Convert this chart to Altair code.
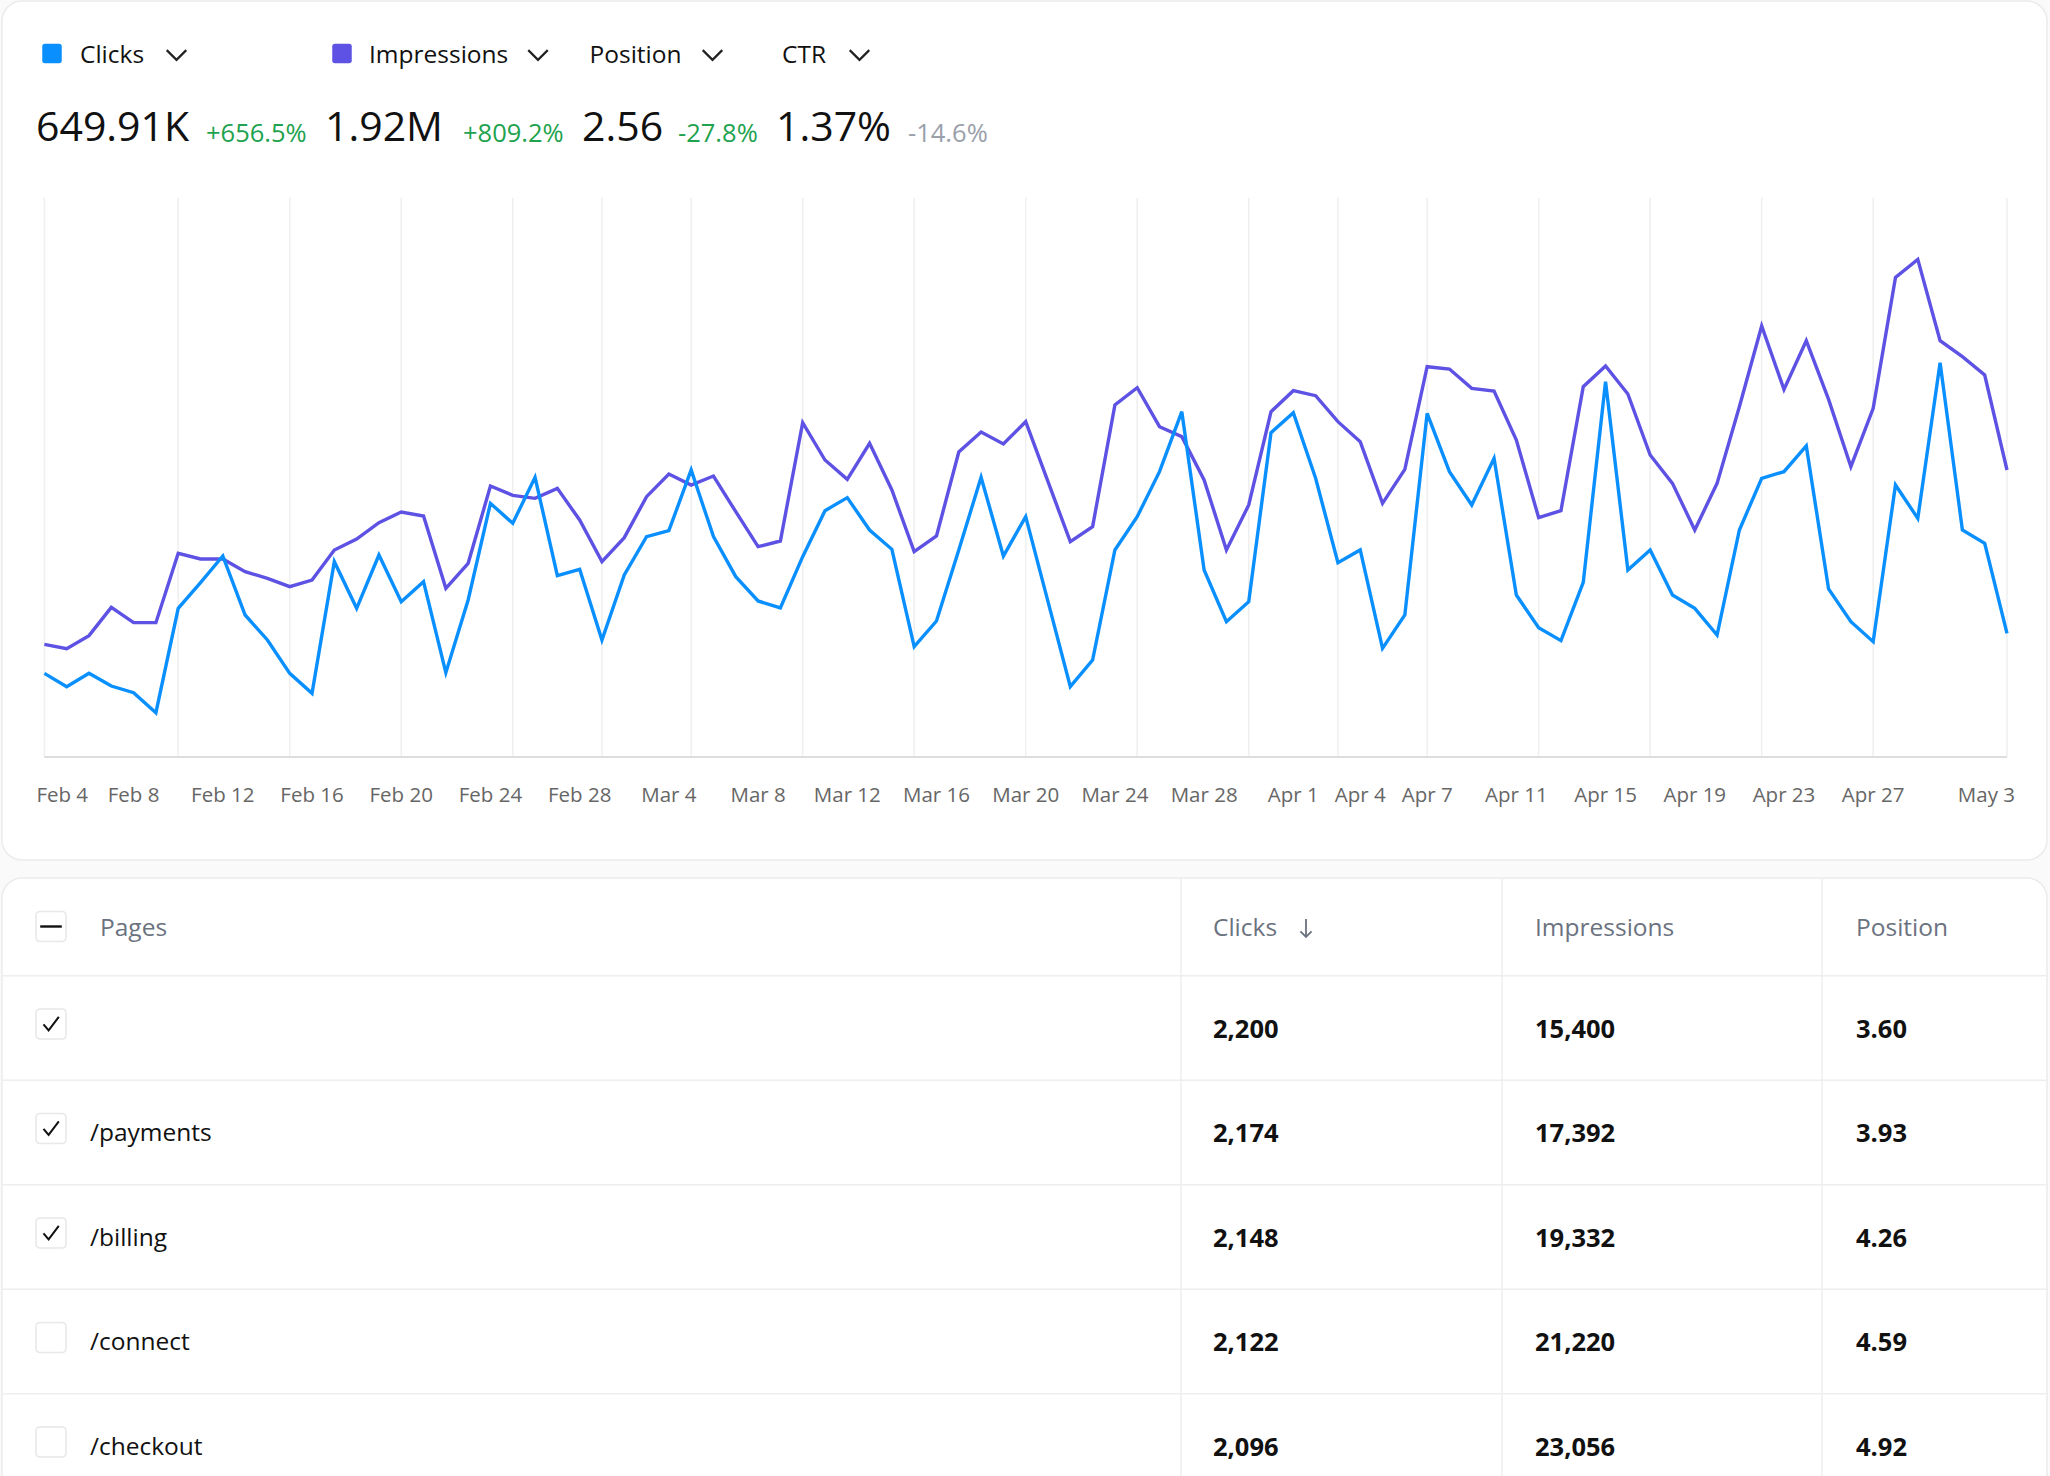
import altair as alt
import pandas as pd

# ---------------- data ----------------
start_date = "2025-02-04"
n_days = 89

clicks = [3143, 2642, 3143, 2667, 2417, 1666, 5585, 6550, 7551, 5335,
          4396, 3143, 2392, 7338, 5585, 7589, 5836, 6587, 3168, 5898,
          9530, 8779, 10507, 6813, 7050, 4396, 6838, 8278, 8503, 10782,
          8278, 6775, 5861, 5598, 7526, 9254, 9743, 8528, 7802, 4145,
          5109, 7777, 10507, 7551, 9029, 5836, 2642, 3644, 7777, 9029,
          10720, 12974, 7025, 5084, 5836, 12185, 12936, 10469, 7301, 7777,
          4082, 5335, 12911, 10720, 9467, 11221, 6086, 4859, 4371, 6562,
          14101, 7025, 7777, 6086, 5585, 4583, 8528, 10469, 10720, 11684,
          6312, 5084, 4333, 10219, 8966, 14815, 8528, 8027, 4646]

impressions = [8666, 8333, 9333, 11512, 10333, 10333, 15666, 15230, 15230, 14256,
               13743, 13102, 13615, 15922, 16769, 18025, 18845, 18538, 12974, 14897,
               20845, 20127, 19897, 20666, 18230, 15025, 16871, 20025, 21768, 20922,
               21615, 18871, 16179, 16615, 25717, 22845, 21358, 24127, 20538, 15794,
               17000, 23461, 24999, 24076, 25794, 21179, 16563, 17717, 27076, 28409,
               25409, 24640, 21307, 15922, 19384, 26563, 28178, 27794, 25794, 24255,
               19512, 22127, 30024, 29845, 28358, 28153, 24384, 18410, 18948, 28486,
               30076, 27922, 23230, 21050, 17461, 21050, 26948, 33153, 28281, 32024,
               27512, 22332, 26819, 36896, 38281, 32024, 30794, 29383, 22076]

tick_label_dates = ["2025-02-04", "2025-02-08", "2025-02-12", "2025-02-16", "2025-02-20",
                    "2025-02-24", "2025-02-28", "2025-03-04", "2025-03-08", "2025-03-12",
                    "2025-03-16", "2025-03-20", "2025-03-24", "2025-03-28", "2025-04-01",
                    "2025-04-04", "2025-04-07", "2025-04-11", "2025-04-15", "2025-04-19",
                    "2025-04-23", "2025-04-27", "2025-05-03"]

gridline_dates = ["2025-02-04", "2025-02-10", "2025-02-15", "2025-02-20", "2025-02-25",
                  "2025-03-01", "2025-03-05", "2025-03-10", "2025-03-15", "2025-03-20",
                  "2025-03-25", "2025-03-30", "2025-04-03", "2025-04-07", "2025-04-12",
                  "2025-04-17", "2025-04-22", "2025-04-27", "2025-05-03"]

metric_names = ["Clicks", "Impressions", "Position", "CTR"]
metric_totals = ["649.91K", "1.92M", "2.56", "1.37%"]
metric_changes = ["+656.5%", "+809.2%", "-27.8%", "-14.6%"]

table_columns = ["Pages", "Clicks", "Impressions", "Position"]
pages = ["", "/payments", "/billing", "/connect", "/checkout"]
page_clicks = [2200, 2174, 2148, 2122, 2096]
page_impressions = [15400, 17392, 19332, 21220, 23056]
page_position = [3.60, 3.93, 4.26, 4.59, 4.92]
page_selected = [True, True, True, False, False]

# ---------------- styles / layout ----------------
FONT = "Open Sans"
BLUE = "#0a8fff"
PURPLE = "#5d52e3"
INK = "#111111"
GREEN = "#21a24e"
MUTED = "#9aa0aa"
AXIS_GRAY = "#666666"
HEAD_GRAY = "#6b7280"
LINE_GRAY = "#eeeeee"

legend_x = [80, 369, 589.5, 782]
chevron_x = [176.5, 538, 712.5, 859.5]
square_x = [52, 342]
square_colors = [BLUE, PURPLE]
total_x = [36, 325, 582, 776]
change_x = [206, 463, 678, 908]
change_colors = [GREEN, GREEN, GREEN, MUTED]
column_x = [100, 1213, 1535, 1856]
divider_x = [1181, 1502, 1822]

ROUNDED = ("M-0.72,-1 L0.72,-1 Q1,-1 1,-0.72 L1,0.72 Q1,1 0.72,1 L-0.72,1 "
           "Q-1,1 -1,0.72 L-1,-0.72 Q-1,-1 -0.72,-1 Z")
CHEVRON = "M-1,-0.5 L0,0.5 L1,-0.5"
CHECK = "M-0.5,0.02 L-0.16,0.42 L0.52,-0.48"
DASH = "M-0.72,0 L0.72,0"
ARROW = "M0,-1 L0,1 M-0.62,0.38 L0,1 L0.62,0.38"

one = pd.DataFrame({"k": [0]})


def text_layer(text, x, y, size, color=INK, weight="normal", align="left",
               baseline="middle", font=FONT):
    return alt.Chart(one).mark_text(
        text=text, align=align, baseline=baseline, fontSize=size, color=color,
        fontWeight=weight, font=font
    ).encode(x=alt.value(x), y=alt.value(y))


def symbol_layer(shape, x, y, size, fill=None, stroke=None, sw=1.0):
    kw = dict(shape=shape, size=size, opacity=1, strokeWidth=sw)
    if fill is not None:
        kw.update(filled=True, fill=fill)
    else:
        kw.update(filled=False, fill="transparent")
    if stroke is not None:
        kw.update(stroke=stroke)
    else:
        kw.update(strokeWidth=0)
    return alt.Chart(one).mark_point(**kw).encode(x=alt.value(x), y=alt.value(y))


def card(x1, x2, y1, y2):
    return alt.Chart(one).mark_rect(
        cornerRadius=20, fill="white", stroke="#ebebeb", strokeWidth=1.5
    ).encode(x=alt.value(x1), x2=alt.value(x2), y=alt.value(y1), y2=alt.value(y2))


layers = []

# cards
layers.append(card(2, 2047, 1, 860))
layers.append(card(2, 2047, 878, 1530))

# header legend + totals
for i, name in enumerate(metric_names):
    if i < len(square_x):
        layers.append(symbol_layer(ROUNDED, square_x[i], 53.5, 380, fill=square_colors[i]))
    layers.append(text_layer(name, legend_x[i], 55.5, 24.5))
    layers.append(symbol_layer(CHEVRON, chevron_x[i], 55, 380, stroke="#222222", sw=2.2))
    layers.append(text_layer(metric_totals[i], total_x[i], 141, 41, baseline="alphabetic"))
    layers.append(text_layer(metric_changes[i], change_x[i], 142, 25.5,
                             color=change_colors[i], baseline="alphabetic"))

# ---------------- line chart ----------------
dates = pd.date_range(start_date, periods=n_days, freq="D")
series = pd.DataFrame({"date": dates, "clicks": clicks, "impressions": impressions})

X = alt.X("date:T", scale=alt.Scale(range=[44.4, 2007], nice=False), axis=None)

grid_df = pd.DataFrame({"date": pd.to_datetime(gridline_dates)})
layers.append(
    alt.Chart(grid_df).mark_rule(color="#efefef", strokeWidth=1.5)
    .encode(x=X, y=alt.value(198), y2=alt.value(757))
)

base_df = pd.DataFrame({"date": [dates[0]], "end": [dates[-1]]})
layers.append(
    alt.Chart(base_df).mark_rule(color="#dddddd", strokeWidth=2)
    .encode(x=X, x2="end:T", y=alt.value(757))
)

layers.append(
    alt.Chart(series).mark_line(color=PURPLE, strokeWidth=3.4)
    .encode(x=X, y=alt.Y("impressions:Q",
                         scale=alt.Scale(domain=[0, 43000], range=[757, 198], nice=False,
                                         zero=False),
                         axis=None))
)
layers.append(
    alt.Chart(series).mark_line(color=BLUE, strokeWidth=3.4)
    .encode(x=X, y=alt.Y("clicks:Q",
                         scale=alt.Scale(domain=[0, 21000], range=[757, 198], nice=False,
                                         zero=False),
                         axis=None))
)

label_df = pd.DataFrame({"date": pd.to_datetime(tick_label_dates)})
label_parts = [
    (label_df.iloc[[0]], "left", -8),
    (label_df.iloc[1:-1], "center", 0),
    (label_df.iloc[[-1]], "right", 8),
]
for part, al, dx in label_parts:
    layers.append(
        alt.Chart(part).mark_text(align=al, dx=dx, baseline="middle", fontSize=20.5,
                                  color=AXIS_GRAY, font=FONT)
        .encode(x=X, y=alt.value(796), text=alt.Text("date:T", format="%b %-d"))
    )

# ---------------- table ----------------
table = pd.DataFrame({
    "row": list(range(len(pages))),
    "page": pages,
    "clicks": page_clicks,
    "impressions": page_impressions,
    "position": page_position,
    "selected": page_selected,
})
ROWSCALE = alt.Scale(domain=[0, 4], range=[1029.5, 1447.5], nice=False, zero=False)
LINESCALE = alt.Scale(domain=[0, 4], range=[1028, 1446], nice=False, zero=False)
BOXSCALE = alt.Scale(domain=[0, 4], range=[1024, 1442], nice=False, zero=False)

bounds = pd.DataFrame({"b": [-0.5, 0.5, 1.5, 2.5, 3.5]})
layers.append(
    alt.Chart(bounds).mark_rule(color=LINE_GRAY, strokeWidth=1.5)
    .encode(y=alt.Y("b:Q", scale=LINESCALE, axis=None), x=alt.value(3), x2=alt.value(2046))
)
for dxv in divider_x:
    layers.append(
        alt.Chart(one).mark_rule(color=LINE_GRAY, strokeWidth=1.5)
        .encode(x=alt.value(dxv), y=alt.value(879), y2=alt.value(1476))
    )

# header row
for i, col in enumerate(table_columns):
    layers.append(text_layer(col, column_x[i], 929, 24.5, color=HEAD_GRAY))
layers.append(symbol_layer(ARROW, 1306, 928, 324, stroke=HEAD_GRAY, sw=1.8))
layers.append(symbol_layer(ROUNDED, 51, 926.5, 900, fill="white", stroke="#e8e8e8", sw=1.5))
layers.append(symbol_layer(DASH, 51, 926.5, 900, stroke=INK, sw=2.4))

# row checkboxes
layers.append(
    alt.Chart(table).mark_point(shape=ROUNDED, size=900, filled=True, fill="white",
                                stroke="#e8e8e8", strokeWidth=1.5, opacity=1)
    .encode(x=alt.value(51), y=alt.Y("row:Q", scale=BOXSCALE, axis=None))
)
layers.append(
    alt.Chart(table[table["selected"]]).mark_point(shape=CHECK, size=900, filled=False,
                                                    fill="transparent", stroke=INK,
                                                    strokeWidth=2, opacity=1)
    .encode(x=alt.value(51), y=alt.Y("row:Q", scale=BOXSCALE, axis=None))
)

# row texts
layers.append(
    alt.Chart(table).mark_text(align="left", baseline="middle", fontSize=24.5, color=INK,
                               font=FONT)
    .encode(x=alt.value(90), y=alt.Y("row:Q", scale=ROWSCALE, axis=None), text="page:N")
)
for field, fmt, xv in [("clicks", ",", column_x[1]),
                       ("impressions", ",", column_x[2]),
                       ("position", ".2f", column_x[3])]:
    layers.append(
        alt.Chart(table).mark_text(align="left", baseline="middle", fontSize=25.5,
                                   fontWeight="bold", color=INK, font=FONT)
        .encode(x=alt.value(xv), y=alt.Y("row:Q", scale=ROWSCALE, axis=None),
                text=alt.Text(f"{field}:Q", format=fmt))
    )

chart = (
    alt.layer(*layers)
    .resolve_scale(y="independent")
    .properties(width=2050, height=1476, padding=0,
                autosize=alt.AutoSizeParams(type="none"))
    .configure(background="#fafafa")
    .configure_view(stroke=None)
)

chart.save("out.html", embed_options={"renderer": "svg", "actions": False})
